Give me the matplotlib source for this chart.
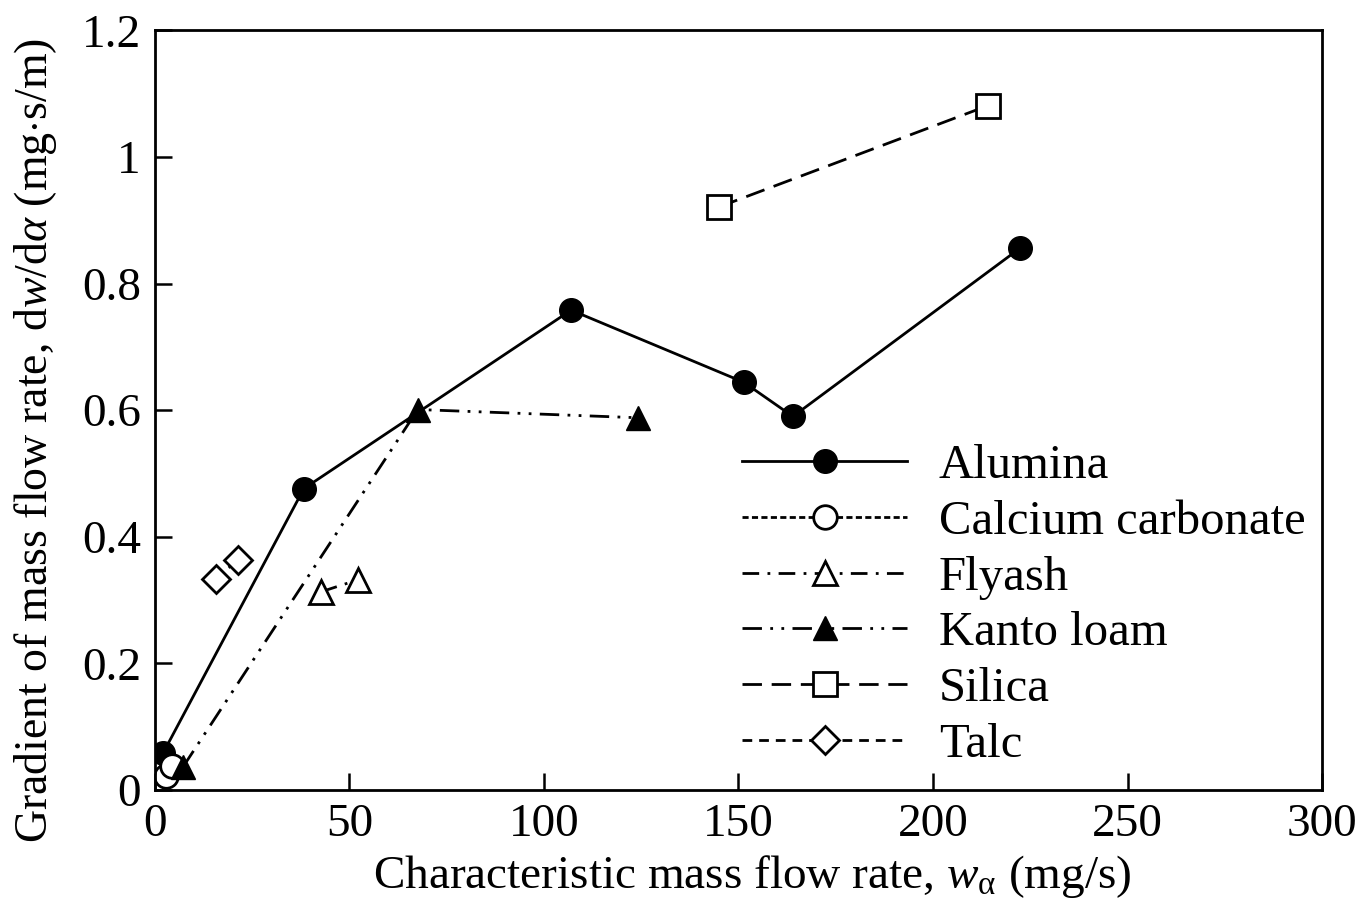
import matplotlib
matplotlib.use('Agg')
import matplotlib.pyplot as plt

plt.rcParams['font.family'] = ['Liberation Serif', 'DejaVu Serif']
plt.rcParams['mathtext.fontset'] = 'custom'
plt.rcParams['mathtext.rm'] = 'Liberation Serif'
plt.rcParams['mathtext.it'] = 'Liberation Serif:italic'
plt.rcParams['mathtext.bf'] = 'Liberation Serif:bold'

# data
alumina_x = [2.1, 38.3, 107.0, 151.4, 164.0, 222.4]
alumina_y = [0.058, 0.476, 0.758, 0.644, 0.590, 0.856]
calcium_x = [3.0, 4.3]
calcium_y = [0.022, 0.038]
flyash_x = [42.7, 52.2]
flyash_y = [0.313, 0.332]
kanto_x = [7.2, 67.6, 124.2]
kanto_y = [0.036, 0.601, 0.588]
silica_x = [145.0, 214.1]
silica_y = [0.921, 1.081]
talc_x = [15.7, 21.3]
talc_y = [0.334, 0.363]

fig = plt.figure(figsize=(13.7, 9.19), dpi=100)
ax = fig.add_axes([0.113, 0.1404, 0.852, 0.8266])

ms = 17
lw = 2.0
ax.plot(alumina_x, alumina_y, '-', color='black', lw=lw, marker='o', ms=ms,
        mfc='black', mec='black', label='Alumina')
ax.plot(calcium_x, calcium_y, color='black', lw=lw, ls=(0, (2.2, 1.2)), marker='o', ms=ms,
        mfc='white', mec='black', mew=2, label='Calcium carbonate')
ax.plot(flyash_x, flyash_y, color='black', lw=lw, ls=(0, (6, 3, 1, 3)), marker='^', ms=ms,
        mfc='white', mec='black', mew=2, label='Flyash')
ax.plot(kanto_x, kanto_y, color='black', lw=lw, ls=(0, (7, 3, 1, 3, 1, 3)), marker='^', ms=ms,
        mfc='black', mec='black', label='Kanto loam')
ax.plot(silica_x, silica_y, color='black', lw=lw, ls=(0, (7, 3.5)), marker='s', ms=ms,
        mfc='white', mec='black', mew=2, label='Silica')
ax.plot(talc_x, talc_y, color='black', lw=lw, ls=(0, (3.5, 2.5)), marker='D', ms=ms * 0.85,
        mfc='white', mec='black', mew=2, label='Talc')

ax.set_xlim(0, 300)
ax.set_ylim(0, 1.2)
ax.set_xticks([0, 50, 100, 150, 200, 250, 300])
ax.set_xticklabels(['0', '50', '100', '150', '200', '250', '300'])
ax.set_yticks([0, 0.2, 0.4, 0.6, 0.8, 1.0, 1.2])
ax.set_yticklabels(['0', '0.2', '0.4', '0.6', '0.8', '1', '1.2'])
ax.tick_params(direction='in', length=12, width=1.8, labelsize=34, pad=10)
for s in ax.spines.values():
    s.set_linewidth(2.0)

ax.set_xlabel(r'Characteristic mass flow rate, $w_{\mathrm{\alpha}}$ (mg/s)', fontsize=34)
ax.xaxis.set_label_coords(0.512, -0.083)
ax.set_ylabel(r'Gradient of mass flow rate, d$w$/d$\alpha$ (mg$\cdot$s/m)', fontsize=33)
ax.yaxis.set_label_coords(-0.082, 0.46)

ax.legend(loc='upper left', bbox_to_anchor=(0.503, 0.455), frameon=False, fontsize=35,
          handlelength=3.4, handletextpad=0.65, labelspacing=0.24, borderaxespad=0, borderpad=0)

fig.savefig('out.png', dpi=100)
